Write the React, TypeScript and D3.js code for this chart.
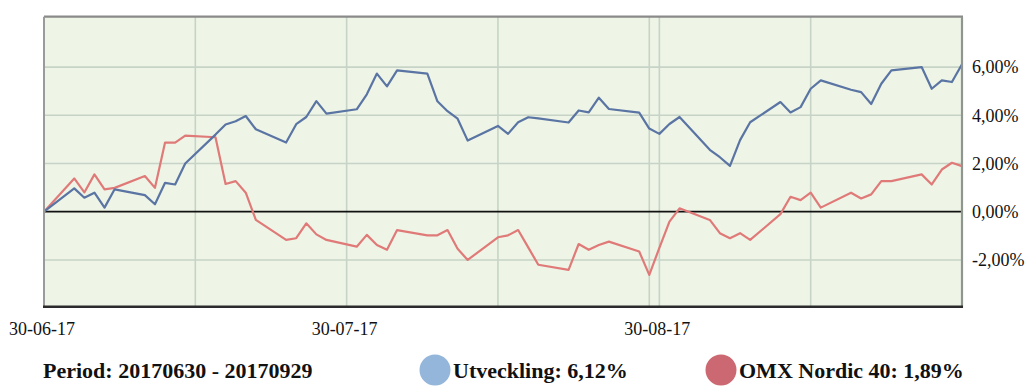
import React from 'react';
import * as d3 from 'd3';

const dates = [
  '2017-06-30', '2017-07-03', '2017-07-04', '2017-07-05', '2017-07-06', '2017-07-07',
  '2017-07-10', '2017-07-11', '2017-07-12', '2017-07-13', '2017-07-14',
  '2017-07-17', '2017-07-18', '2017-07-19', '2017-07-20', '2017-07-21',
  '2017-07-24', '2017-07-25', '2017-07-26', '2017-07-27', '2017-07-28',
  '2017-07-31', '2017-08-01', '2017-08-02', '2017-08-03', '2017-08-04',
  '2017-08-07', '2017-08-08', '2017-08-09', '2017-08-10', '2017-08-11',
  '2017-08-14', '2017-08-15', '2017-08-16', '2017-08-17', '2017-08-18',
  '2017-08-21', '2017-08-22', '2017-08-23', '2017-08-24', '2017-08-25',
  '2017-08-28', '2017-08-29', '2017-08-30', '2017-08-31', '2017-09-01',
  '2017-09-04', '2017-09-05', '2017-09-06', '2017-09-07', '2017-09-08',
  '2017-09-11', '2017-09-12', '2017-09-13', '2017-09-14', '2017-09-15',
  '2017-09-18', '2017-09-19', '2017-09-20', '2017-09-21', '2017-09-22',
  '2017-09-25', '2017-09-26', '2017-09-27', '2017-09-28', '2017-09-29',
];

const utveckling = [
  0, 0.97, 0.58, 0.79, 0.17, 0.93,
  0.69, 0.31, 1.2, 1.13, 2.0,
  3.2, 3.62, 3.75, 3.97, 3.42,
  2.87, 3.63, 3.93, 4.59, 4.07,
  4.25, 4.87, 5.73, 5.2, 5.86,
  5.73, 4.58, 4.17, 3.86, 2.95,
  3.56, 3.23, 3.71, 3.92, 3.87,
  3.7, 4.2, 4.12, 4.73, 4.26,
  4.11, 3.45, 3.23, 3.64, 3.93,
  2.57, 2.26, 1.9, 2.97, 3.71,
  4.55, 4.12, 4.34, 5.1, 5.45,
  5.06, 4.96, 4.47, 5.31, 5.86,
  6.0, 5.1, 5.45, 5.38, 6.12,
];

const omx = [
  0, 1.38, 0.8, 1.55, 0.93, 0.99,
  1.48, 0.99, 2.87, 2.87, 3.16,
  3.09, 1.15, 1.27, 0.79, -0.34,
  -1.17, -1.1, -0.48, -0.94, -1.17,
  -1.45, -0.96, -1.38, -1.58, -0.76,
  -0.98, -0.98, -0.76, -1.54, -2.0,
  -1.06, -0.98, -0.76, -1.48, -2.2,
  -2.41, -1.34, -1.58, -1.38, -1.24,
  -1.65, -2.62, -1.5, -0.41, 0.14,
  -0.34, -0.89, -1.1, -0.89, -1.17,
  -0.1, 0.62, 0.48, 0.79, 0.17,
  0.79, 0.55, 0.72, 1.27, 1.27,
  1.55, 1.13, 1.75, 2.03, 1.89,
];

const yTicks = [-2, 0, 2, 4, 6];
const gridDates = ['2017-07-15', '2017-07-30', '2017-08-14', '2017-08-29', '2017-08-30', '2017-09-14'];
const labelDates = ['2017-06-30', '2017-07-30', '2017-08-30'];
const periodText = 'Period: 20170630 - 20170929';
const legendItems = [
  { name: 'Utveckling', value: '6,12%', color: '#94b6da' },
  { name: 'OMX Nordic 40', value: '1,89%', color: '#cc6871' },
];

const parse = d3.timeParse('%Y-%m-%d');
const fmtDate = d3.timeFormat('%d-%m-%y');
const fmtPct = (v: number) => d3.format('.2f')(v).replace('.', ',').replace('\u2212', '-') + '%';

export default function App() {
  const width = 1031;
  const height = 391;
  const left = 44;
  const right = 962;
  const top = 16.7;
  const bottom = 306.7;

  const x = d3.scaleTime()
    .domain([parse('2017-06-30')!, parse('2017-09-29')!])
    .range([left, right]);

  const y = d3.scaleLinear()
    .domain([-3.94, 8.09])
    .range([bottom, top]);

  const parsed = dates.map(d => parse(d)!);

  const line = d3.line<number>()
    .x((_, i) => x(parsed[i]))
    .y(d => y(d));

  const font = '"Liberation Serif", "Times New Roman", serif';

  return (
    <div style={{ position: 'absolute', left: 0, top: 0 }}>
      <svg width={width} height={height} style={{ display: 'block', fontFamily: font }}>
        <rect x={left} y={top} width={right - left} height={bottom - top} fill="#eef5e7" />
        {yTicks.filter(t => t !== 0).map(t => (
          <line key={t} x1={left} x2={right} y1={y(t)} y2={y(t)} stroke="#c6d3c6" strokeWidth={1.6} />
        ))}
        {gridDates.map(d => (
          <line key={d} x1={x(parse(d)!)} x2={x(parse(d)!)} y1={top} y2={bottom} stroke="#c6d3c6" strokeWidth={1.6} />
        ))}
        <line x1={left} x2={right} y1={y(0)} y2={y(0)} stroke="#111" strokeWidth={1.8} />

        <path d={line(omx) ?? ''} fill="none" stroke="#e07a78" strokeWidth={2.2} strokeLinejoin="round" />
        <path d={line(utveckling) ?? ''} fill="none" stroke="#5a74a3" strokeWidth={2.2} strokeLinejoin="round" />

        <line x1={left} x2={right + 1} y1={top} y2={top} stroke="#8a8a8a" strokeWidth={2.2} />
        <line x1={left} x2={left} y1={top} y2={bottom} stroke="#9a9a9a" strokeWidth={2} />
        <line x1={right} x2={right} y1={top} y2={bottom + 1} stroke="#8f9690" strokeWidth={2.2} />
        <line x1={left - 1} x2={right + 1} y1={bottom} y2={bottom} stroke="#2b2b2b" strokeWidth={2.6} />

        {yTicks.map(t => (
          <text key={t} x={972} y={y(t)} dy="0.35em" fontSize={18} fill="#111">{fmtPct(t)}</text>
        ))}
        {labelDates.map(d => (
          <text key={d} x={x(parse(d)!) - 2} y={335} fontSize={18} textAnchor="middle" fill="#111">
            {fmtDate(parse(d)!)}
          </text>
        ))}

        <text x={43} y={378} fontSize={22} fontWeight="bold" fill="#111">{periodText}</text>
        {legendItems.map((item, i) => {
          const cx = i === 0 ? 435 : 721;
          return (
            <g key={item.name}>
              <circle cx={cx} cy={370} r={15.5} fill={item.color} />
              <text x={cx + 18} y={378} fontSize={22} fontWeight="bold" fill="#111">
                {item.name}: {item.value}
              </text>
            </g>
          );
        })}
      </svg>
    </div>
  );
}
